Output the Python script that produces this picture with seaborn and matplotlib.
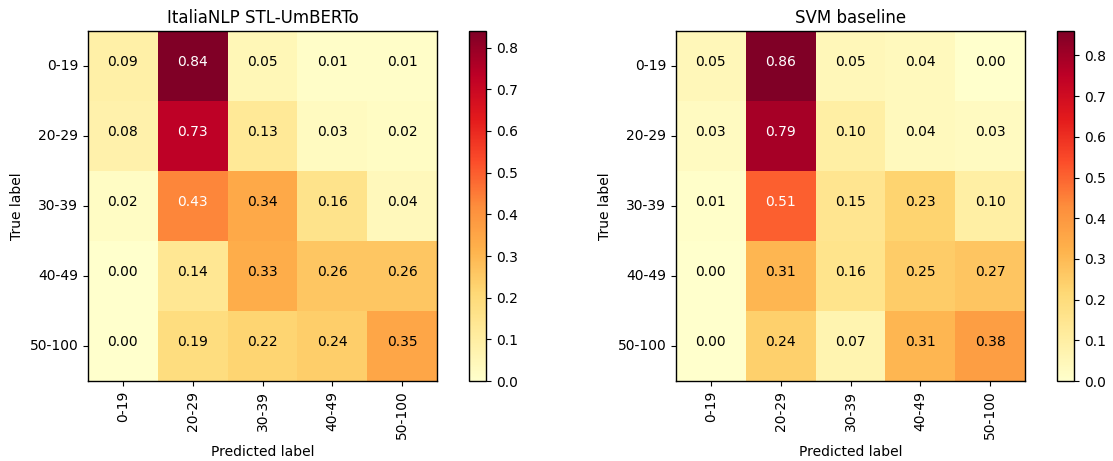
import numpy as np
import matplotlib
matplotlib.use("Agg")
import matplotlib.pyplot as plt
import seaborn as sns

labels = ["0-19", "20-29", "30-39", "40-49", "50-100"]

umberto = [
    [0.09, 0.84, 0.05, 0.01, 0.01],
    [0.08, 0.73, 0.13, 0.03, 0.02],
    [0.02, 0.43, 0.34, 0.16, 0.04],
    [0.00, 0.14, 0.33, 0.26, 0.26],
    [0.00, 0.19, 0.22, 0.24, 0.35],
]
svm = [
    [0.05, 0.86, 0.05, 0.04, 0.00],
    [0.03, 0.79, 0.10, 0.04, 0.03],
    [0.01, 0.51, 0.15, 0.23, 0.10],
    [0.00, 0.31, 0.16, 0.25, 0.27],
    [0.00, 0.24, 0.07, 0.31, 0.38],
]
titles = ["ItaliaNLP STL-UmBERTo", "SVM baseline"]

fig = plt.figure(figsize=(11.13, 4.61), dpi=100)
W, H = 1113, 461

# axes boxes in pixels: (left, bottom-from-top, width, height)
boxes = [(88, 381, 349, 350), (676, 381, 349, 350)]
cboxes = [(469, 381, 17, 350), (1057, 381, 17, 350)]


def draw(mat, title, box, cbox):
    ax = fig.add_axes([box[0] / W, (H - box[1]) / H, box[2] / W, box[3] / H])
    cax = fig.add_axes([cbox[0] / W, (H - cbox[1]) / H, cbox[2] / W, cbox[3] / H])
    m = np.array(mat)
    sns.heatmap(m, ax=ax, cbar_ax=cax, cmap="YlOrRd", vmin=0, vmax=m.max(),
                annot=True, fmt=".2f", annot_kws={"fontsize": 10},
                xticklabels=labels, yticklabels=labels)
    # white text on dark cells, like sklearn's confusion matrix
    thresh = m.max() / 2
    for t, v in zip(ax.texts, m.flatten()):
        t.set_color("white" if v > thresh else "black")
        x, y = t.get_position()
        t.set_position((x, y - 0.06))
    for s in ax.spines.values():
        s.set_visible(True)
        s.set_linewidth(1.0)
    ax.set_title(title, fontsize=12)
    ax.set_xlabel("Predicted label")
    ax.set_ylabel("True label")
    ax.set_xticklabels(labels, rotation=90)
    ax.set_yticklabels(labels, rotation=0)
    ax.tick_params(length=3.5)
    cax.set_yticks(np.arange(0, 0.81, 0.1))
    cax.tick_params(length=3.5)
    cb = ax.collections[0].colorbar
    cb.outline.set_visible(True)
    cb.outline.set_linewidth(1.0)


for mat, title, box, cbox in zip([umberto, svm], titles, boxes, cboxes):
    draw(mat, title, box, cbox)

fig.savefig("out.png", dpi=100)
